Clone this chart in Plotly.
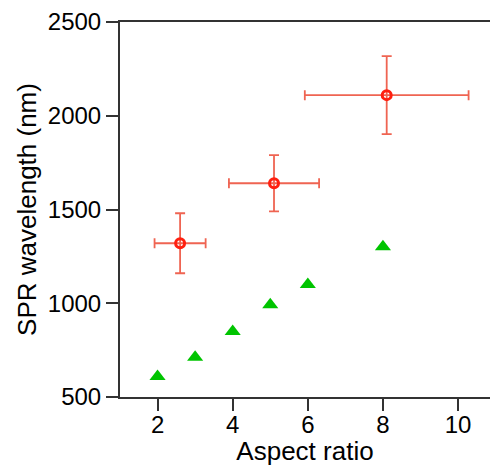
import plotly.graph_objects as go

# measured gold nanorods (red, with error bars)
measured_ar = [2.6, 5.1, 8.1]
measured_spr = [1320, 1640, 2110]
measured_ar_err = [0.68, 1.2, 2.18]
measured_spr_err = [160, 150, 208]

# calculated values (green triangles)
calc_ar = [2, 3, 4, 5, 6, 8]
calc_spr = [610, 712, 850, 992, 1100, 1302]

x_ticks = [2, 4, 6, 8, 10]
y_ticks = [500, 1000, 1500, 2000, 2500]

fig = go.Figure()

fig.add_trace(go.Scatter(
    x=calc_ar, y=calc_spr, mode="markers",
    marker=dict(symbol="triangle-up", size=14, color="#00c400", line=dict(width=0)),
    showlegend=False,
))

fig.add_trace(go.Scatter(
    x=measured_ar, y=measured_spr, mode="markers",
    error_x=dict(type="data", array=measured_ar_err, color="#ef6452", thickness=1.8, width=5),
    error_y=dict(type="data", array=measured_spr_err, color="#ef6452", thickness=1.8, width=5),
    marker=dict(symbol="circle-open", size=9, color="#ff2010", line=dict(width=3, color="#ff2010")),
    showlegend=False,
))

fig.update_layout(
    width=490, height=466,
    margin=dict(l=120, r=0, t=22, b=69),
    plot_bgcolor="white", paper_bgcolor="white",
    font=dict(family="Liberation Sans, Arial, sans-serif", size=24, color="black"),
)
fig.update_xaxes(
    range=[1.0, 10.85], tickvals=x_ticks, ticks="outside", ticklen=12,
    tickcolor="#333", tickwidth=1.5, showline=True, linecolor="#333", linewidth=2,
    mirror=True, showgrid=False, zeroline=False, tickfont=dict(size=24),
    ticklabelstandoff=-7,
    title=dict(text="Aspect ratio", font=dict(size=26), standoff=0),
)
fig.update_yaxes(
    range=[500, 2500], tickvals=y_ticks, ticks="outside", ticklen=12,
    tickcolor="#333", tickwidth=1.5, showline=True, linecolor="#333", linewidth=2,
    showgrid=False, zeroline=False, tickfont=dict(size=24),
    title=dict(text="SPR wavelength (nm)", font=dict(size=26), standoff=4),
)

# drop the default body margin so the figure sits at the page corner
fig.write_html(
    "out.html",
    config={"displayModeBar": False},
    post_script="document.body.style.margin='0';document.body.style.overflow='hidden';",
)
